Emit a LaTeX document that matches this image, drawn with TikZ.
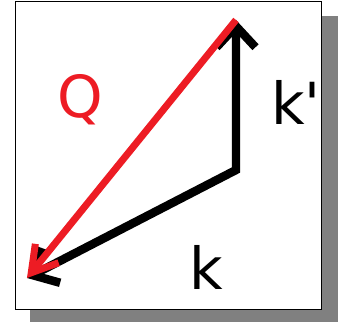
\documentclass[tikz,border=0pt]{standalone}
\usepackage{fontspec}
\setmainfont{DejaVu Sans}
\usetikzlibrary{arrows.meta}
\definecolor{paintred}{HTML}{ED1C24}
\definecolor{shadowgray}{HTML}{808080}

\begin{document}
\begin{tikzpicture}[x=0.02cm, y=-0.02cm,
    vec/.style={line width=0.17cm, line join=miter,
                {Straight Barb[length=0.42cm, width=0.78cm]}-{Straight Barb[length=0.42cm, width=0.78cm]}},
    qvec/.style={paintred, line width=0.14cm,
                 -{Straight Barb[length=0.5cm, width=0.6cm]}},
    lbl/.style={font=\fontsize{33}{36}\selectfont, inner sep=0pt, anchor=base west}
  ]
    \useasboundingbox (0,0) rectangle (339,323);
    % frame with shadow
    \fill[shadowgray] (30,16) rectangle (338,322);
    \draw[fill=white, line width=0.02cm] (16,2) rectangle (322,310);

    \coordinate (corner) at (236,170);
    \coordinate (top) at (236,20);
    \coordinate (low) at (27,278);

    % k and k'
    \draw[vec] (top) -- (corner) -- (low);
    % Q
    \draw[qvec] (top) -- (low);

    \node[lbl, paintred] (qlabel) at (57,118) {Q};
    \node[lbl] (kplabel) at (271,125) {k\textquotesingle};
    \node[lbl] (klabel) at (189,290) {k};
  \end{tikzpicture}
\end{document}
